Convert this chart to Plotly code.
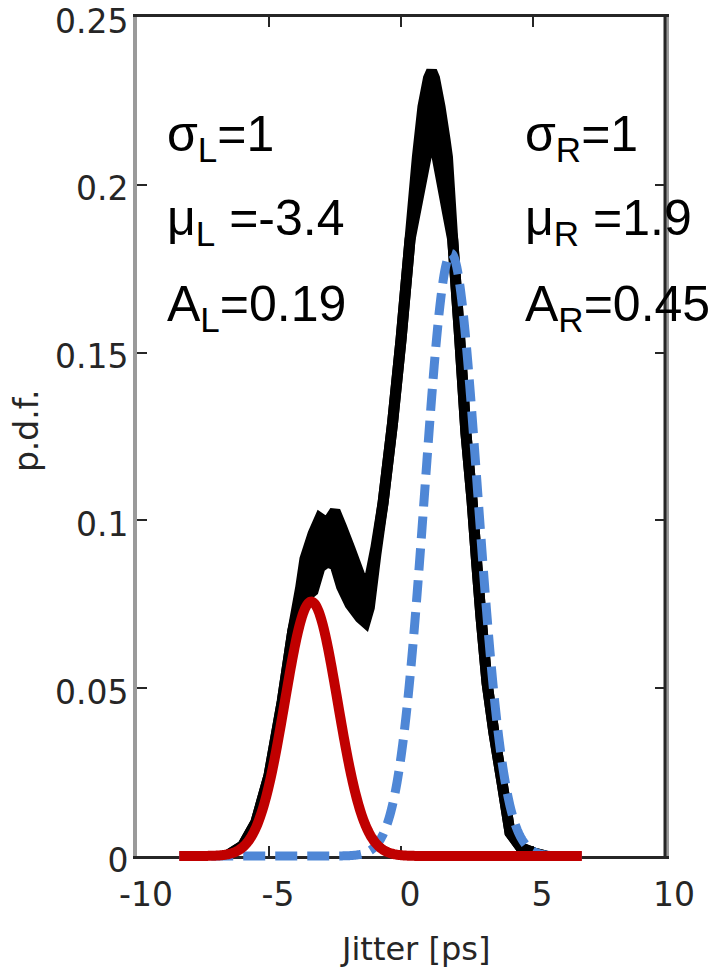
import numpy as np
import plotly.graph_objects as go

# Measured jitter histogram: the noisy record is drawn as a band between
# its upper and lower excursions (ps, probability density)
JITTER_PS = [-6.6, -6.0, -5.5, -5.0, -4.5, -4.1, -3.8, -3.64, -3.33, -3.07,
             -2.8, -2.5, -2.25, -1.93, -1.55, -1.36, -1.2, -0.95, -0.68, -0.32,
             0.0, 0.34, 0.62, 0.83, 1.04, 1.16, 1.27, 1.48, 1.67, 1.76, 1.96,
             2.20, 2.46, 2.69, 2.88, 3.03, 3.26, 3.52, 3.83, 4.13, 4.55, 5.04,
             5.5]
PDF_UPPER = [0.000, 0.003, 0.010, 0.024, 0.046, 0.067, 0.080, 0.0885, 0.096,
             0.1007, 0.0992, 0.1028, 0.098, 0.0915, 0.0834, 0.082, 0.082, 0.092,
             0.1052, 0.129, 0.1538, 0.1836, 0.2083, 0.2232, 0.2318, 0.2339,
             0.2318, 0.2232, 0.2134, 0.2083, 0.1836, 0.157, 0.126, 0.106,
             0.0861, 0.0712, 0.0515, 0.0367, 0.0218, 0.0069, 0.0024, 0.0009,
             0.0]
PDF_LOWER = [0.000, 0.003, 0.010, 0.024, 0.046, 0.067, 0.077, 0.077, 0.079,
             0.086, 0.0876, 0.0868, 0.0802, 0.075, 0.071, 0.0697, 0.074, 0.090,
             0.1052, 0.129, 0.1538, 0.1836, 0.1949, 0.2034, 0.2119, 0.2169,
             0.2124, 0.2036, 0.1956, 0.1918, 0.1836, 0.157, 0.126, 0.106,
             0.0861, 0.0712, 0.0515, 0.0367, 0.0218, 0.0069, 0.0024, 0.0009,
             0.0]

# Fitted dual-Dirac Gaussian tails
SIGMA_L, MU_L, A_L = 1, -3.4, 0.19
SIGMA_R, MU_R, A_R = 1, 1.9, 0.45
FIT_RANGE = (-8.4, 6.85)

X_TICKS = [-10, -5, 0, 5, 10]
X_TICK_TEXT = ["-10", "-5", "0", "5", "10"]
Y_TICKS = [0, 0.05, 0.1, 0.15, 0.2, 0.25]
Y_TICK_TEXT = ["0", "0.05", "0.1", "0.15", "0.2", "0.25"]
Y_MAX = 0.25


def gauss(x, a, mu, sigma):
    return a / (sigma * np.sqrt(2 * np.pi)) * np.exp(-0.5 * ((x - mu) / sigma) ** 2)


xf = np.linspace(FIT_RANGE[0], FIT_RANGE[1], 500)

# Frame geometry (px): the fitted curves live on an overlay subplot reaching a
# little below the frame so their thick baseline strokes are not clipped at 0
W, H = 711, 968
M_L, M_R, M_T, M_B = 137, 46, 17, 100
EXTRA = 12                      # px the overlay extends below the frame
plot_h = H - M_T - M_B
dom_lo = EXTRA / plot_h
y2_lo = -Y_MAX * EXTRA / (plot_h - EXTRA)

fig = go.Figure()
line_kw = dict(color="black", width=11, simplify=False)
fig.add_trace(go.Scatter(x=JITTER_PS, y=PDF_LOWER, mode="lines", line=line_kw,
                         showlegend=False))
fig.add_trace(go.Scatter(x=JITTER_PS, y=PDF_UPPER, mode="lines", line=line_kw,
                         fill="tonexty", fillcolor="black", showlegend=False))
fig.add_trace(go.Scatter(x=xf, y=gauss(xf, A_R, MU_R, SIGMA_R), mode="lines",
                         line=dict(color="#4f87d6", width=9, dash="22px,10px",
                                   simplify=False),
                         xaxis="x2", yaxis="y2", showlegend=False))
fig.add_trace(go.Scatter(x=xf, y=gauss(xf, A_L, MU_L, SIGMA_L), mode="lines",
                         line=dict(color="#c00000", width=10, simplify=False),
                         xaxis="x2", yaxis="y2", showlegend=False))

TXT = "#262626"
tick_font = dict(family="DejaVu Sans", size=33, color=TXT)
label_font = dict(family="Liberation Sans", size=50, color="black")

fig.update_layout(
    xaxis=dict(range=[-10, 10], domain=[0, 1], tickvals=X_TICKS,
               ticktext=X_TICK_TEXT, ticks="inside", ticklen=10, tickwidth=2,
               tickcolor=TXT, showline=True, linecolor=TXT, linewidth=3,
               mirror="ticks", showgrid=False, zeroline=False,
               tickfont=tick_font, ticklabelshift=9, ticklabelstandoff=7,
               ticklabeloverflow="allow", automargin=False,
               layer="below traces", anchor="y"),
    yaxis=dict(range=[0, Y_MAX * 1.000001], domain=[dom_lo, 1],
               tickvals=Y_TICKS, ticktext=Y_TICK_TEXT, ticks="inside",
               ticklen=10, tickwidth=2, tickcolor=TXT, showline=True,
               linecolor="#9a9a9a", linewidth=4, mirror="ticks",
               showgrid=False, zeroline=False, tickfont=tick_font,
               ticklabelshift=4, ticklabelstandoff=-2,
               ticklabeloverflow="allow", automargin=False,
               layer="below traces", anchor="x"),
    xaxis2=dict(range=[-10, 10], domain=[0, 1], visible=False, anchor="y2",
                automargin=False),
    yaxis2=dict(range=[y2_lo, Y_MAX], domain=[0, 1], visible=False,
                anchor="x2", automargin=False),
)

annotations = []
left_rows = [f"σ<sub>L</sub>={SIGMA_L:g}", f"μ<sub>L</sub> ={MU_L:g}",
             f"A<sub>L</sub>={A_L:g}"]
right_rows = [f"σ<sub>R</sub>={SIGMA_R:g}", f"μ<sub>R</sub> ={MU_R:g}",
              f"A<sub>R</sub>={A_R:g}"]
row_px = [137.5, 221.5, 307]
for lt, rt, py in zip(left_rows, right_rows, row_px):
    yy = (H - M_B - py) / plot_h
    annotations.append(dict(text=lt, xref="paper", yref="paper", x=0.053, y=yy,
                            xanchor="left", yanchor="middle", showarrow=False,
                            font=label_font))
    annotations.append(dict(text=rt, xref="paper", yref="paper", x=0.731, y=yy,
                            xanchor="left", yanchor="middle", showarrow=False,
                            font=label_font))
annotations.append(dict(text="p.d.f.", xref="paper", yref="paper", x=-0.21,
                        y=(H - M_B - 431) / plot_h, xanchor="center",
                        yanchor="middle", textangle=-90, showarrow=False,
                        font=dict(family="DejaVu Sans", size=33, color=TXT)))
annotations.append(dict(text="Jitter [ps]", xref="paper", yref="paper", x=0.527,
                        y=(H - M_B - 949) / plot_h, xanchor="center",
                        yanchor="middle", showarrow=False,
                        font=dict(family="DejaVu Sans", size=32, color=TXT)))

fig.update_layout(
    width=W, height=H,
    margin=dict(l=M_L, r=M_R, t=M_T, b=M_B, autoexpand=False),
    paper_bgcolor="white", plot_bgcolor="rgba(0,0,0,0)",
    annotations=annotations,
    shapes=[dict(type="line", xref="paper", yref="paper", x0=1, x1=1,
                 y0=dom_lo, y1=1, line=dict(color=TXT, width=3),
                 layer="above")],
)

fig.write_html("out.html")
